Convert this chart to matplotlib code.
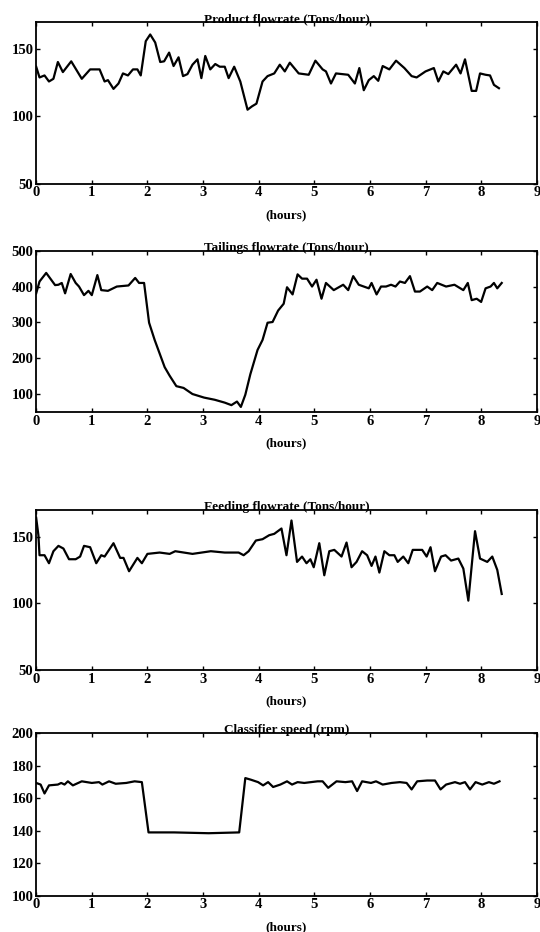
import numpy as np
import matplotlib
matplotlib.use('Agg')
from matplotlib import pyplot as plt

plt.rcParams['font.family'] = ['Liberation Serif', 'DejaVu Serif']
plt.rcParams['font.weight'] = 'bold'

# Product flowrate (Tons/hour)
prod_t = [0, 0.06, 0.15, 0.23, 0.31, 0.39, 0.48, 0.63, 0.82, 0.97, 1.14, 1.23, 1.29, 1.39,
          1.48, 1.56, 1.65, 1.74, 1.82, 1.88, 1.97, 2.05, 2.14, 2.23, 2.30, 2.39, 2.47,
          2.56, 2.64, 2.72, 2.81, 2.90, 2.97, 3.04, 3.13, 3.22, 3.30, 3.39, 3.46, 3.56,
          3.67, 3.80, 3.88, 3.96, 4.07, 4.16, 4.28, 4.38, 4.47, 4.56, 4.72, 4.90, 5.02,
          5.15, 5.21, 5.30, 5.39, 5.61, 5.73, 5.81, 5.89, 5.98, 6.07, 6.15, 6.23, 6.35,
          6.47, 6.62, 6.75, 6.84, 7.00, 7.15, 7.23, 7.32, 7.41, 7.55, 7.63, 7.71, 7.83,
          7.91, 7.98, 8.08, 8.16, 8.23, 8.32]
prod_v = [137, 129, 130.5, 126, 128, 140.5, 133, 141, 128, 135, 135, 126, 127, 120.5,
          124.5, 132, 130.5, 135, 135, 130.5, 156, 161, 155, 140.5, 141, 147.5, 137.5,
          144, 130, 131.5, 138.5, 142.5, 128.5, 145, 135, 139, 137, 137, 128.5, 137,
          126, 105, 107.5, 109.5, 126, 130, 132, 138.5, 133.5, 140, 132, 131, 141.5,
          135, 133.5, 124.5, 132, 131, 124.5, 136, 119.5, 127, 130, 126.5, 137.5, 135,
          141.5, 136, 130, 129, 133.5, 136, 126, 133.5, 131.5, 138.5, 132, 142.5, 119,
          119, 132, 131, 130.5, 123.5, 121]

# Tailings flowrate (Tons/hour)
tail_t = [0, 0.06, 0.18, 0.34, 0.40, 0.46, 0.52, 0.62, 0.71, 0.77, 0.86, 0.94, 1.00, 1.10,
          1.17, 1.29, 1.45, 1.66, 1.78, 1.85, 1.94, 2.03, 2.13, 2.22, 2.31, 2.40, 2.52,
          2.65, 2.81, 3.02, 3.21, 3.39, 3.51, 3.61, 3.68, 3.76, 3.85, 3.98, 4.07, 4.16,
          4.25, 4.35, 4.45, 4.51, 4.61, 4.70, 4.78, 4.87, 4.96, 5.04, 5.13, 5.21, 5.35,
          5.52, 5.61, 5.70, 5.80, 5.98, 6.03, 6.12, 6.20, 6.29, 6.38, 6.46, 6.54, 6.63,
          6.72, 6.81, 6.90, 7.03, 7.12, 7.21, 7.37, 7.52, 7.68, 7.76, 7.83, 7.92, 8.00,
          8.08, 8.17, 8.23, 8.29, 8.37]
tail_v = [381, 414, 438, 404, 405, 410, 381, 435, 410, 400, 376, 388, 376, 432,
          390, 388, 400, 403, 424, 410, 410, 299, 251, 213, 175, 151, 122,
          117, 100, 90, 84, 76, 69, 79, 64, 98, 155, 223, 251, 299,
          301, 333, 352, 398, 378, 434, 422, 422, 400, 419, 366, 410, 390,
          405, 390, 429, 405, 395, 410, 378, 400, 400, 405, 400, 414, 410,
          429, 386, 386, 400, 390, 410, 400, 405, 390, 410, 362, 366, 357,
          395, 400, 410, 395, 410]

# Feeding flowrate (Tons/hour)
feed_t = [0, 0.04, 0.06, 0.15, 0.23, 0.31, 0.40, 0.49, 0.59, 0.71, 0.79, 0.86, 0.97, 1.08,
          1.17, 1.23, 1.39, 1.51, 1.57, 1.67, 1.82, 1.90, 2.00, 2.22, 2.40, 2.50, 2.81,
          3.14, 3.39, 3.64, 3.73, 3.82, 3.95, 4.07, 4.19, 4.28, 4.41, 4.50, 4.59, 4.69,
          4.78, 4.86, 4.93, 4.99, 5.09, 5.18, 5.27, 5.36, 5.49, 5.58, 5.67, 5.76, 5.86,
          5.95, 6.03, 6.10, 6.17, 6.26, 6.35, 6.44, 6.50, 6.60, 6.69, 6.77, 6.94, 7.02,
          7.09, 7.17, 7.28, 7.36, 7.46, 7.59, 7.68, 7.77, 7.89, 7.98, 8.11, 8.20, 8.29,
          8.37]
feed_v = [164, 151, 136, 136, 130, 139, 143, 141, 133, 133, 135, 143, 142, 130,
          136, 135, 145, 134, 134, 124, 134, 130, 137, 138, 137, 139, 137,
          139, 138, 138, 136, 139, 147, 148, 151, 152, 156, 136, 162, 131,
          135, 130, 133, 127, 145, 121, 139, 140, 135, 145.5, 127, 131, 139,
          136, 128, 135, 123, 139, 136, 136, 131, 135, 130, 140, 140, 135,
          142, 124, 135, 136, 132, 133.5, 126, 102, 154, 133.5, 131, 135, 125,
          107]

# Classifier speed (rpm)
clas_t = [0, 0.08, 0.15, 0.23, 0.39, 0.45, 0.51, 0.57, 0.66, 0.82, 1.00, 1.13, 1.19, 1.31,
          1.43, 1.62, 1.77, 1.90, 2.02, 2.48, 3.10, 3.65, 3.76, 3.86, 3.99, 4.08, 4.17,
          4.26, 4.39, 4.51, 4.60, 4.70, 4.82, 5.06, 5.15, 5.25, 5.40, 5.56, 5.68, 5.77,
          5.86, 6.02, 6.11, 6.23, 6.39, 6.54, 6.66, 6.75, 6.85, 7.03, 7.17, 7.27, 7.37,
          7.53, 7.62, 7.71, 7.80, 7.90, 8.02, 8.14, 8.23, 8.33]
clas_v = [169.5, 168.5, 163, 168, 168.5, 169.5, 168.5, 170.5, 168, 170.5, 169.5, 170, 168.5, 170.5,
          169, 169.5, 170.5, 170, 139, 139, 138.5, 139, 172.5, 171.5, 170, 168, 170,
          167, 168.5, 170.5, 168.5, 170, 169.5, 170.5, 170.5, 166.5, 170.5, 170, 170.5, 164.5,
          170.5, 169.5, 170.5, 168.5, 169.5, 170, 169.5, 165.5, 170.5, 171, 171, 165.5, 168.5,
          170, 169, 170, 165.5, 170, 168.5, 170, 169, 170.5]

titles = ['Product flowrate (Tons/hour)', 'Tailings flowrate (Tons/hour)',
          'Feeding flowrate (Tons/hour)', 'Classifier speed (rpm)']
series = [(prod_t, prod_v), (tail_t, tail_v), (feed_t, feed_v), (clas_t, clas_v)]
ylims = [(50, 170), (50, 500), (50, 170), (100, 200)]
yticks = [[50, 100, 150], [100, 200, 300, 400, 500], [50, 100, 150],
          [100, 120, 140, 160, 180, 200]]
boxes = [[0.067, 0.803, 0.927, 0.173],
         [0.067, 0.558, 0.927, 0.173],
         [0.067, 0.281, 0.927, 0.172],
         [0.067, 0.039, 0.927, 0.174]]

fig = plt.figure(figsize=(5.4, 9.32), dpi=100)

for i in range(4):
    ax = fig.add_axes(boxes[i])
    t, v = series[i]
    ax.plot(t, v, color='black', lw=1.6)
    ax.set_xlim(0, 9)
    ax.set_ylim(*ylims[i])
    ax.set_xticks(range(10))
    ax.set_yticks(yticks[i])
    ax.tick_params(direction='in', length=3, width=1, top=True, right=True,
                   labelsize=10.5, pad=2)
    for s in ax.spines.values():
        s.set_linewidth(1.3)
    ax.set_title(titles[i], fontsize=9.5, fontweight='bold', pad=0)
    ax.set_xlabel('(hours)', fontsize=9.5, fontweight='bold', labelpad=7)

fig.savefig('out.png', dpi=100)
